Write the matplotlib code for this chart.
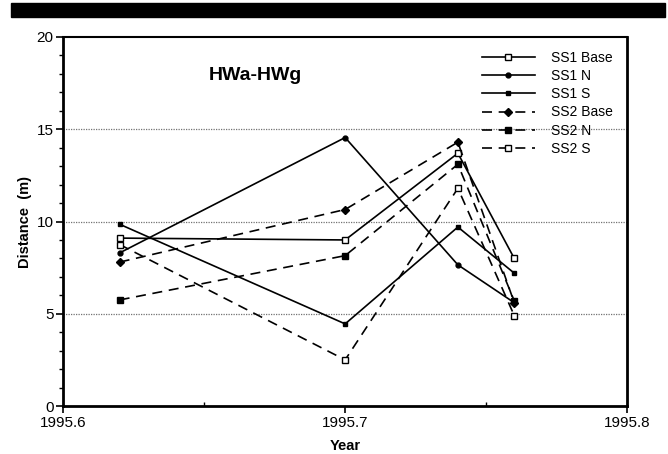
import matplotlib
matplotlib.use("Agg")
import matplotlib.pyplot as plt
from matplotlib.patches import Rectangle
from matplotlib.ticker import MultipleLocator

plt.rcParams["font.family"] = ["Liberation Sans", "DejaVu Sans"]

# Datos
years = [1995.62, 1995.70, 1995.74, 1995.76]
ss1_base = [9.1, 9.0, 13.7, 8.0]
ss1_n = [8.3, 14.55, 7.65, 5.6]
ss1_s = [9.85, 4.45, 9.7, 7.2]
ss2_base = [7.8, 10.65, 14.3, 5.6]
ss2_n = [5.75, 8.15, 13.1, 5.7]
ss2_s = [8.75, 2.5, 11.8, 4.9]

series = [
    ("SS1 Base", ss1_base, "-", "s", "white", 4),
    ("SS1 N", ss1_n, "-", "o", "black", 3.5),
    ("SS1 S", ss1_s, "-", "s", "black", 3.5),
    ("SS2 Base", ss2_base, "--", "D", "black", 3.8),
    ("SS2 N", ss2_n, "--", "s", "black", 4.5),
    ("SS2 S", ss2_s, "--", "s", "white", 4),
]

fig = plt.figure(figsize=(6.68, 4.54), dpi=100)
ax = fig.add_axes([63.3 / 668, 1 - 406 / 454, (627 - 63.3) / 668, (406 - 37) / 454])

# barra negra superior
fig.patches.append(Rectangle((11 / 668, 1 - 17 / 454), 654 / 668, 14 / 454,
                             transform=fig.transFigure, color="black", zorder=5))

for y in (5, 10, 15):
    ax.axhline(y, color="0.45", lw=0.9, ls=(0, (1, 1)), zorder=0)

for name, vals, ls, mk, fc, ms in series:
    ax.plot(years, vals, ls=ls, color="black", lw=1.2, marker=mk, ms=ms,
            mfc=fc, mec="black", mew=1.0, label=name,
            dashes=(6, 4) if ls == "--" else (None, None))

ax.set_xlim(1995.6, 1995.8)
ax.set_ylim(0, 20)
ax.xaxis.set_major_locator(MultipleLocator(0.1))
ax.xaxis.set_minor_locator(MultipleLocator(0.05))
ax.yaxis.set_major_locator(MultipleLocator(5))
ax.yaxis.set_minor_locator(MultipleLocator(1))
ax.xaxis.set_major_formatter(plt.FuncFormatter(lambda v, p: f"{v:.1f}"))
ax.tick_params(axis="both", which="major", length=5, width=1.2, labelsize=11,
               direction="out", pad=2)
ax.tick_params(axis="x", which="minor", length=3, width=1.0, direction="in")
ax.tick_params(axis="y", which="minor", length=3, width=1.0, direction="out")

for side in ("left", "bottom", "right"):
    ax.spines[side].set_linewidth(2)
ax.spines["top"].set_linewidth(1.5)

ax.set_xlabel("Year", fontsize=10.5, fontweight="bold", labelpad=7)
ax.set_ylabel("Distance  (m)", fontsize=10.5, fontweight="bold", labelpad=3)

ax.text(0.34, 0.895, "HWa-HWg", transform=ax.transAxes, fontsize=14,
        fontweight="bold", ha="center", va="center")

ax.legend(loc="upper right", frameon=False, fontsize=10, handlelength=3.8,
          labelspacing=0.3, borderaxespad=0.6, handletextpad=1.2)

fig.savefig("out.png", dpi=100)
